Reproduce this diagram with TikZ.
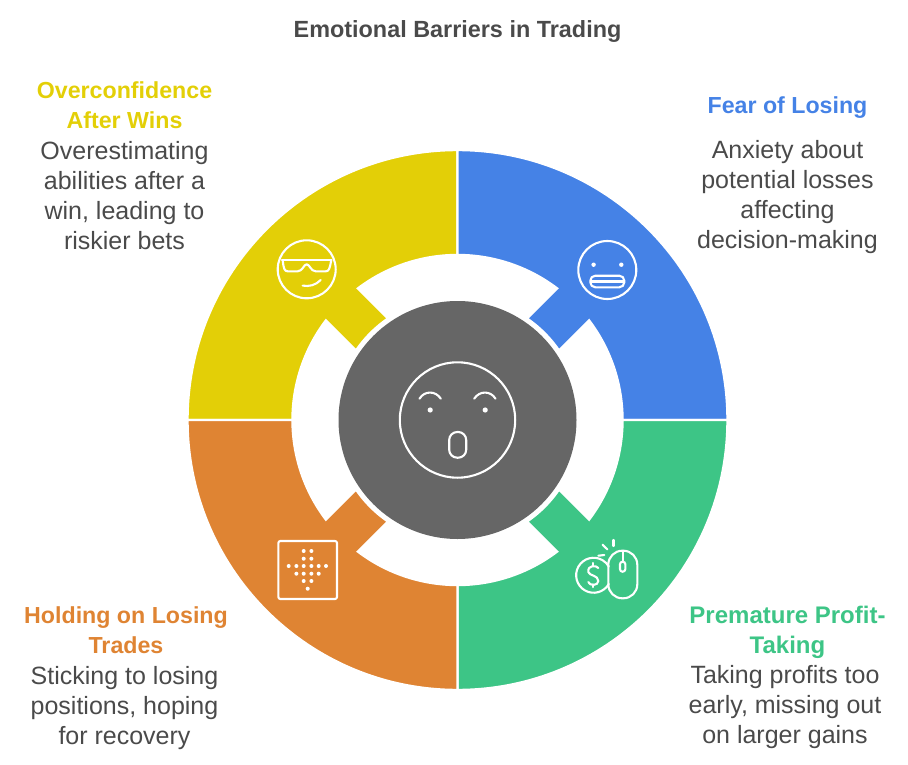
\documentclass[tikz,border=0pt]{standalone}
\usepackage{fontspec}
\setmainfont{Liberation Sans}
\usetikzlibrary{positioning,calc}

\definecolor{blueseg}{HTML}{4582E6}
\definecolor{greenseg}{HTML}{3DC586}
\definecolor{orangeseg}{HTML}{DF8433}
\definecolor{yellowseg}{HTML}{E3CF07}
\definecolor{hubgray}{HTML}{666666}
\definecolor{inkgray}{HTML}{4A4A4A}

\begin{document}
\begin{tikzpicture}[
    x=1pt, y=1pt,
    % Segment and icon styles
    segment/.style={draw=white, line width=2.4pt, line join=miter},
    icon/.style={draw=white, line width=2.1pt, line cap=round, line join=round},
    dot/.style={fill=white, draw=none},
    % Label styles
    heading/.style={font=\fontsize{23.2}{30}\selectfont\bfseries, align=center, inner sep=0pt},
    blurb/.style={font=\fontsize{25}{30}\selectfont, align=center, text=inkgray, inner sep=0pt},
]

\useasboundingbox (0,0) rectangle (908,-765);

% Ring center and radii
\coordinate (ring-center) at (457.5,-420);
\def\outerR{270}
\def\innerR{165}
\def\tipR{123}

% One segment, written for the upper left quarter
\newcommand{\segmentpath}{
    (180:\outerR) arc[start angle=180, end angle=90, radius=\outerR]
    -- (90:\innerR) arc[start angle=90, end angle=127.1, radius=\innerR]
    -- (124.37:\tipR) arc[start angle=124.37, end angle=145.63, radius=\tipR]
    -- (142.9:\innerR) arc[start angle=142.9, end angle=180, radius=\innerR]
    -- cycle
}

% The four segments
\begin{scope}[shift={(ring-center)}]
    \fill[yellowseg, segment] \segmentpath;
    \fill[blueseg, segment, rotate=-90] \segmentpath;
    \fill[greenseg, segment, rotate=180] \segmentpath;
    \fill[orangeseg, segment, rotate=90] \segmentpath;
    \fill[hubgray] (0,0) circle (119);
\end{scope}

% Hub face
\begin{scope}[shift={(ring-center)}]
    \draw[icon] (0,0) circle (57.7);
    \draw[icon] (-38,21.3) .. controls (-33,29.5) and (-22,29.5) .. (-16.7,21.3);
    \draw[icon] (16.7,21.3) .. controls (22,29.5) and (33,29.5) .. (38,21.3);
    \fill[dot] (-27.3,10) circle (2.6);
    \fill[dot] (27.7,10) circle (2.6);
    \draw[icon, rounded corners=8pt] (-8.3,-12) rectangle (8.7,-37.7);
\end{scope}

% Sunglasses face
\begin{scope}[shift={(306.7,-269.3)}]
    \draw[icon] (0,0) circle (29);
    \draw[icon] (-24.7,9.3) -- (25,9.3);
    \draw[icon] (-24,9) .. controls (-23,0) and (-22,-2) .. (-19,-2) -- (-9,-2) .. controls (-4,-2) and (-3,5) .. (0,5)
        .. controls (3,5) and (4,-2) .. (9,-2) -- (19,-2) .. controls (22,-2) and (23,0) .. (24.5,9);
    \draw[icon] (-4,-16.3) .. controls (2,-17.5) and (9,-16) .. (14,-10.7);
\end{scope}

% Clenched teeth face
\begin{scope}[shift={(607.3,-270)}]
    \draw[icon] (0,0) circle (29);
    \fill[dot] (-13.7,5.3) circle (2.2);
    \fill[dot] (14,5.3) circle (2.2);
    \draw[icon, rounded corners=5pt] (-17,-5.7) rectangle (17,-17.3);
    \draw[icon] (-16.5,-11.5) -- (16.5,-11.5);
\end{scope}

% Coin and mouse
\begin{scope}[shift={(593.3,-575)}]
    \draw[icon] (15.5,-9) arc[start angle=-30, end angle=-330, radius=17.5];
    \draw[icon] (5,7) .. controls (3,10) and (-6,10) .. (-5,3) .. controls (-4,-1) and (5,0) .. (5,-6)
        .. controls (5,-11) and (-4,-11) .. (-5,-7);
    \draw[icon] (0,12) -- (0,9.5);
    \draw[icon] (0,-9.5) -- (0,-12);
    \draw[icon, rounded corners=14pt] (15,24.3) rectangle (44,-23.3);
    \draw[icon] (29.3,24) -- (29.3,13);
    \draw[icon, rounded corners=2.5pt] (26.7,13.3) rectangle (32,3.3);
    \draw[icon] (20.2,35) -- (20.2,29);
    \draw[icon] (9.3,30.3) -- (14,25.7);
    \draw[icon] (5,19.3) -- (11,20);
\end{scope}

% Dotted arrow in a box
\begin{scope}[shift={(307.7,-570)}]
    \draw[icon, rounded corners=2pt] (-29.3,29) rectangle (29.3,-29);
    \foreach \px/\py in {-4/19,3.7/19,-4/11.3,3.7/11.3,
        -19/4,-11.3/4,-4/4,3.7/4,11/4,18.3/4,
        -11.3/-3.7,-4/-3.7,3.7/-3.7,11/-3.7,
        -4/-11,3.7/-11,0/-18.7}
        \fill[dot] (\px,\py) circle (2);
\end{scope}

% Title
\node[font=\fontsize{23.4}{30}\selectfont\bfseries, text=inkgray, inner sep=0pt] (title) at (457.5,-32) {Emotional Barriers in Trading};

% Labels
\node[heading, text=yellowseg] (wins-head) at (124.5,-105) {Overconfidence\\After Wins};
\node[blurb] (wins-text) at (124.5,-196) {Overestimating\\abilities after a\\win, leading to\\riskier bets};

\node[heading, text=blueseg] (fear-head) at (787.5,-108) {Fear of Losing};
\node[blurb] (fear-text) at (787.5,-197) {Anxiety about\\potential losses\\affecting\\decision-making};

\node[heading, text=greenseg, font=\fontsize{24}{30}\selectfont\bfseries] (profit-head) at (787.5,-632.5) {Premature Profit-\\Taking};
\node[blurb] (profit-text) at (785,-707) {Taking profits too\\early, missing out\\on larger gains};

\node[heading, text=orangeseg] (hold-head) at (126,-630.5) {Holding on Losing\\Trades};
\node[blurb] (hold-text) at (124.5,-708) {Sticking to losing\\positions, hoping\\for recovery};

\end{tikzpicture}
\end{document}
